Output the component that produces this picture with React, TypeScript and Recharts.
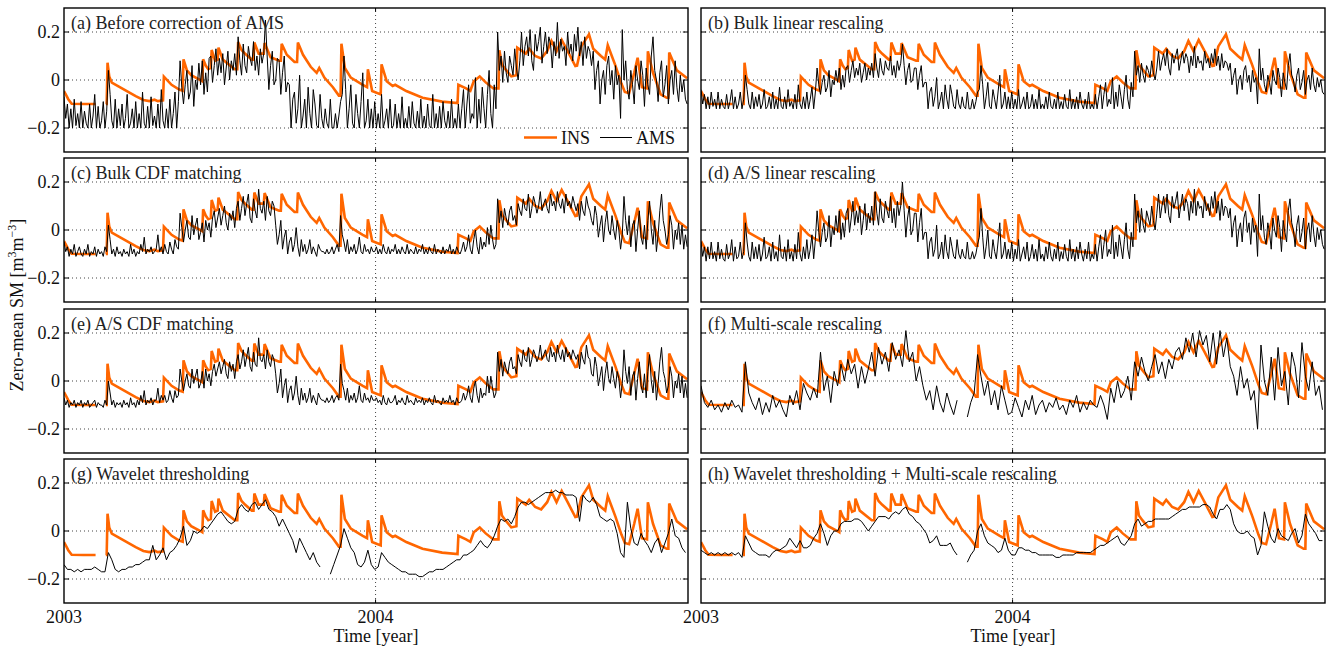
import React from 'react';
import { LineChart, Line, XAxis, YAxis, ReferenceLine } from 'recharts';

const FONT = '"Liberation Serif", "Times New Roman", serif';
const X_END = 731; // days from 2003-01-01 to 2005-01-01
const xTickDays = [0, 365];
const xTickLabels = ['2003', '2004'];
const yTicks = [-0.2, 0, 0.2];
const yTickLabels = ['\u22120.2', '0', '0.2'];

// INS (in situ) soil moisture anomaly, values in 0.01 m3/m3, at irregular days
const insDays = [0,5,9,23,37,43,49,50,51,53,56,70,84,93,100,106,110,116,117,126,135,139,140,144,149,161,162,163,166,169,172,173,177,180,181,186,200,203,204,208,212,220,222,223,228,234,235,242,252,254,255,261,270,273,274,280,289,296,299,305,315,322,324,325,329,336,350,355,356,361,371,372,378,385,388,401,420,443,461,462,471,476,480,487,494,503,509,510,513,517,524,530,531,541,545,552,559,566,571,577,583,590,599,601,606,615,620,629,634,637,646,653,657,662,668,672,677,683,684,690,699,706,708,709,718,730];
const insVals = [-4.6,-8,-9.9,-10,-10,null,-10,-10,7.2,1.5,-1.1,-3.9,-6.7,-8.3,-8.8,-8.2,-8.8,-8.5,1.4,-2,-4,-4.5,8.6,4,2,-0.3,-0.5,8.6,6,4.5,5,12.5,8,8.5,13.5,8.5,4.5,4.5,15.8,12.5,11,8.5,8.5,15.6,11,11,15.4,9.5,8,8,15.1,10.5,7.5,7.5,15.6,10.5,5.5,3,5,1,-3,-6.5,-6.5,15.1,5,1,-2,-3,4.5,-4.6,-6,6.5,-0.5,-2.5,-2,-4.6,-7.4,-9,-9.6,-2,-3.5,-4.5,-0.5,1.5,-1,-3.5,-3.5,12.4,6.5,4.5,1.5,2,13.5,11,13,10,9,12,16.3,12,16.7,12,5.8,6,14,19,13,10,8.5,14.5,6,-1.5,-5,-5.5,3,9.3,-3,-3.5,12,3,-6,-7.4,-7.4,11.4,4,0.7];

// AMS series for each panel, values in 0.01 m3/m3; (a)-(e) every 2 days, (f)-(h) every 4 days
const amsA = [-7,-16,-10,-20,-12,-20,-8,-19,-14,-20,-9,-20,-13,-18,-20,-10,-20,-15,-6,-20,-11,-20,-17,-9,-20,-13,4,-6,-17,-20,-8,-20,-12,-19,-10,-20,-16,-6,-20,-18,-12,-20,-9,-20,-14,-20,-5,-18,-20,-11,-20,-7,-19,-15,-20,-10,-20,-4,-17,-20,-12,-20,-8,-20,-14,-5,-20,-9,8,-3,-10,-2,4,-8,-5,6,-11,0,-4,7,-2,8,-6,3,-5,9,10,-1,6,13,2,9,3,11,-2,5,12,0,8,4,11,2,18,8,2,15,6,3,14,9,6,16,4,10,2,13,7,11,25,10,-4,6,12,-2,0,9,8,-6,3,10,-5,-1,-2,-20,-8,-5,-18,-12,2,-20,-15,-8,-20,-3,-14,-20,-4,-10,-19,-20,-6,-16,-20,-12,-18,-20,-8,-20,-20,-14,-20,-15,-9,-6,10,-4,-20,-12,-2,-18,-20,-6,-14,-20,-9,3,-20,-17,-8,-20,-12,-20,-9,-20,-14,-20,-6,-20,-17,-12,-20,-8,-20,-19,-10,-20,-14,-20,-7,-20,-16,-20,-11,-20,-9,-18,-20,-13,-20,-8,-20,-15,-20,-10,-19,-20,-6,-20,-14,-20,-11,-20,-9,-17,-20,-13,-20,-8,-20,-16,-20,-10,-20,-12,-4,-20,-10,-2,-18,-14,-16,1,-20,-8,-18,-3,-12,-20,-6,4,-14,-20,-2,-12,20,4,10,-1,12,3,-1,10,6,2,13,5,0,8,20,6,14,18,10,21,8,4,19,12,16,22,7,14,20,11,18,15,5,16,10,24,9,17,12,14,6,20,11,15,8,19,12,22,10,16,6,18,9,14,12,6,12,-4,4,8,-10,0,4,-6,6,10,-2,4,-8,6,-2,2,-16,21,0,8,-4,-8,4,-2,-10,6,0,-4,8,2,-11,5,-2,-6,10,18,4,0,-9,3,8,-7,-2,6,-10,0,4,-6,8,-3,-9,2,-5,0,-8,-10];
const amsB = [-4,-10,-6,-12,-7,-12,-5,-11,-8,-12,-5,-12,-8,-11,-12,-6,-12,-9,-4,-12,-7,-12,-10,-5,-12,-8,2,-4,-10,-12,-5,-12,-7,-11,-6,-12,-10,-4,-12,-11,-7,-12,-5,-12,-8,-12,-3,-11,-12,-7,-12,-4,-11,-9,-12,-6,-12,-2,-10,-12,-7,-12,-5,-12,-8,-3,-12,-5,5,-2,-6,-1,2,-5,-3,4,-7,0,-2,4,-1,5,-4,2,-3,5,6,-1,4,8,1,5,2,7,-1,3,7,0,5,2,7,1,11,5,1,9,4,2,8,5,4,10,2,6,1,8,4,7,15,6,-2,4,7,-1,0,5,5,-4,2,6,-3,-1,-1,-12,-5,-3,-11,-7,1,-12,-9,-5,-12,-2,-8,-12,-2,-6,-11,-12,-4,-10,-12,-7,-11,-12,-5,-12,-12,-8,-12,-9,-5,-4,6,-2,-12,-7,-1,-11,-12,-4,-8,-12,-5,2,-12,-10,-5,-12,-7,-12,-5,-12,-8,-12,-4,-12,-10,-7,-12,-5,-12,-11,-6,-12,-8,-12,-4,-12,-10,-12,-7,-12,-5,-11,-12,-8,-12,-5,-12,-9,-12,-6,-11,-12,-4,-12,-8,-12,-7,-12,-5,-10,-12,-8,-12,-5,-12,-10,-12,-6,-12,-7,-2,-12,-6,-1,-11,-8,-10,1,-12,-5,-11,-2,-7,-12,-4,2,-8,-12,-1,-7,12,2,6,-1,7,2,-1,6,4,1,8,3,0,5,12,4,8,11,6,13,5,2,11,7,10,13,4,8,12,7,11,9,3,10,6,14,5,10,7,8,4,12,7,9,5,11,7,13,6,10,4,11,5,8,7,4,7,-2,2,5,-6,0,2,-4,4,6,-1,2,-5,4,-1,1,-10,13,0,5,-2,-5,2,-1,-6,4,0,-2,5,1,-7,3,-1,-4,6,11,2,0,-5,2,5,-4,-1,4,-6,0,2,-4,5,-2,-5,1,-3,0,-5,-6];
const amsC = [-5,-9,-7,-11,-8,-10,-6,-11,-9,-7,-10,-11,-8,-10,-6,-11,-9,-10,-7,-11,-8,-10,-9,-11,-7,-9,2,-4,-10,-8,-11,-7,-10,-9,-11,-8,-10,-9,-11,-6,-10,-8,-11,-9,-10,-6,-9,-3,-10,-8,-9,-7,-10,-9,-8,-2,-9,-7,-10,-6,-9,-10,-5,-8,-10,-4,-7,-8,7,1,-5,0,4,-3,-4,6,-2,2,5,-4,-1,3,-5,4,0,3,-3,5,8,1,5,9,2,6,10,3,0,7,4,8,1,9,12,4,9,14,6,11,15,5,3,13,8,5,17,9,7,12,4,14,8,6,12,10,2,-6,-2,4,-8,-3,0,-10,-5,-3,-9,-6,1,-7,-11,-4,-9,-6,-10,-8,-4,-10,-7,-9,-11,-6,-8,-9,-9,-10,-8,-10,-9,-7,-10,-8,-6,-9,6,-2,-5,-9,-4,-10,-7,-9,-6,-10,-8,-3,-9,-10,-6,-9,-8,-10,-7,-9,-9,-7,-10,-8,-10,-6,-9,-10,-7,-10,-8,-9,-6,-10,-8,-10,-7,-9,-10,-6,-10,-8,-9,-10,-7,-10,-8,-9,-6,-10,-8,-10,-7,-9,-10,-6,-10,-8,-9,-10,-7,-10,-8,-9,-6,-10,-8,-10,-7,-9,-10,-8,-5,-9,-7,-2,-8,-10,-4,0,-7,-10,-3,-8,-5,-7,1,-6,2,-4,-8,-6,13,3,8,1,9,5,2,8,10,4,6,2,11,8,6,13,9,8,15,5,9,14,11,7,10,16,8,11,13,9,7,15,10,12,8,16,11,9,13,7,15,10,12,9,14,11,8,11,4,12,8,6,14,10,8,4,2,10,6,-3,2,6,-5,3,8,0,-2,6,0,-4,4,0,-8,-2,14,4,-2,6,-7,2,4,-9,0,8,-3,-6,2,-8,4,12,0,-6,4,-9,-2,8,15,4,0,-6,-2,6,2,-8,0,-4,3,-6,2,-8,-2,-7];
const amsD = [-5,-11,-7,-13,-7,-12,-5,-12,-9,-13,-5,-12,-8,-12,-13,-6,-12,-10,-4,-13,-7,-12,-11,-5,-12,-9,3,-5,-11,-13,-5,-12,-7,-12,-6,-13,-10,-3,-12,-11,-7,-13,-5,-12,-9,-13,-2,-11,-12,-7,-13,-4,-12,-9,-13,-6,-12,-1,-10,-13,-7,-12,-4,-12,-8,-2,-12,-4,8,-1,-7,-1,3,-5,-3,6,-7,1,-2,6,-1,8,-4,3,-3,7,9,-1,5,12,2,8,3,10,-2,4,11,0,7,3,10,2,16,7,2,13,5,3,12,8,5,14,3,9,1,12,6,10,20,8,-3,5,10,-2,0,7,7,-5,3,9,-4,-1,-1,-12,-5,-3,-11,-8,2,-12,-10,-5,-12,-2,-9,-12,-3,-7,-11,-12,-4,-10,-12,-8,-11,-12,-5,-12,-12,-9,-12,-10,-6,-3,9,-3,-12,-7,0,-11,-12,-4,-9,-12,-5,3,-12,-10,-5,-12,-8,-12,-5,-13,-8,-12,-4,-13,-10,-7,-12,-5,-13,-11,-6,-12,-8,-13,-4,-12,-10,-13,-7,-12,-5,-11,-13,-8,-12,-5,-13,-9,-12,-6,-11,-13,-4,-12,-8,-13,-7,-12,-5,-10,-13,-8,-12,-5,-13,-10,-12,-6,-13,-7,-2,-12,-6,0,-11,-8,-10,2,-12,-5,-11,-2,-7,-12,-4,3,-8,-12,-1,-7,15,3,8,-1,9,2,-1,8,5,2,10,4,0,7,15,5,10,14,7,15,6,3,14,9,12,16,5,10,15,8,13,11,4,12,7,17,6,12,9,10,5,14,8,11,6,14,9,16,7,12,4,13,6,10,9,5,9,-3,3,6,-7,0,3,-5,5,8,-1,3,-6,5,-1,2,-11,15,0,6,-3,-6,3,-1,-8,5,0,-3,6,1,-9,4,-1,-5,8,13,3,0,-7,2,6,-5,-1,5,-8,0,3,-5,6,-2,-7,1,-4,0,-6,-8];
const amsE = [-7,-10,-8,-11,-9,-10,-8,-11,-9,-10,-8,-11,-9,-10,-8,-11,-10,-9,-8,-11,-9,-10,-10,-11,-8,-10,0,-5,-10,-8,-11,-9,-10,-9,-11,-8,-10,-9,-11,-7,-10,-9,-11,-8,-10,-6,-9,-4,-10,-8,-9,-7,-10,-8,-8,-3,-9,-6,-8,-6,-9,-8,-4,-7,-9,-4,-7,-6,5,0,-4,0,3,-2,-3,5,-1,2,5,-3,-1,4,-3,5,0,3,-2,4,7,2,5,8,3,6,9,3,1,8,4,7,1,8,11,5,8,13,6,10,14,6,4,12,7,6,18,9,8,11,5,13,8,6,11,9,3,-5,-1,5,-7,-2,1,-9,-4,-2,-8,-5,2,-6,-10,-3,-8,-5,-9,-7,-3,-9,-6,-8,-10,-5,-7,-8,-8,-9,-7,-9,-8,-6,-9,-7,-6,-8,7,-1,-4,-8,-3,-9,-6,-8,-5,-9,-7,-2,-8,-9,-5,-8,-7,-9,-6,-8,-8,-7,-9,-8,-10,-6,-9,-10,-7,-9,-9,-8,-6,-10,-8,-9,-7,-9,-10,-6,-9,-8,-9,-10,-7,-9,-8,-9,-7,-10,-8,-9,-7,-9,-10,-6,-9,-8,-9,-10,-7,-9,-8,-9,-6,-9,-8,-10,-7,-9,-9,-8,-5,-8,-6,-2,-7,-9,-3,0,-6,-9,-3,-7,-5,-6,2,-5,2,-3,-7,-5,12,4,9,2,8,5,3,8,10,5,6,3,11,8,6,13,9,8,14,6,9,13,11,8,10,15,9,11,13,9,8,14,10,12,8,15,11,9,13,8,14,10,12,9,13,11,9,11,5,12,9,7,15,10,9,3,2,10,6,-2,2,6,-4,3,8,1,-1,6,1,-3,4,1,-7,-1,13,4,-1,6,-6,2,4,-8,1,8,-2,-5,3,-7,4,11,0,-5,4,-8,-1,8,14,4,1,-5,-2,6,2,-7,0,-3,3,-5,2,-7,-1,-7];
const amsF = [-2,-9,-11,-8,-12,-10,-13,-9,-12,-8,-11,-10,-13,8,-5,-9,-12,-7,-14,-9,-13,-6,-11,-8,-12,-15,-6,-10,-4,-12,-1,-5,-8,-3,-7,12,-4,2,-9,4,-2,7,0,9,3,7,-3,6,-1,5,12,2,14,7,12,4,16,9,13,6,21,8,12,0,6,-2,-8,-4,-12,-2,-9,-13,-5,-10,-14,-8,null,null,-15,-9,-5,11,2,-6,0,-10,-4,-12,-2,-8,-14,-13,-7,-11,-15,-8,-12,-6,-14,-10,-8,-13,-9,-11,-7,-12,-10,-14,-8,-11,-6,-13,-9,-12,-8,-10,-11,-6,-10,-16,-3,-9,0,-7,-4,2,-8,8,2,10,4,0,6,11,3,8,1,9,5,12,14,9,18,12,20,10,21,15,19,8,20,7,21,10,18,6,2,-6,6,-3,1,-8,-4,-20,15,0,-6,10,-8,14,-2,4,-10,12,6,-7,16,2,-4,8,-6,-2,-12];
const amsG = [-14,-16,-16,-17,-16,-17,-16,-16,-16,-15,-16,-17,-17,-9,-12,-16,-17,-16,-16,-15,-15,-14,-14,-13,-12,-12,-6,-12,-10,-7,-12,-9,-8,-6,-3,2,-6,-4,0,-1,0,2,1,3,5,7,8,6,4,3,4,9,11,9,8,11,12,9,11,13,9,8,6,2,5,2,-1,-4,-9,-3,-6,-9,-12,-9,-13,-15,null,null,-18,-14,-10,-6,1,-3,-7,-9,-14,-15,-13,-8,-14,-16,-15,-9,-11,-13,-14,-15,-16,-17,-17,-18,-18,-18,-19,-19,-18,-17,-17,-16,-16,-16,-15,-14,-13,-12,-12,-10,-10,-9,-8,-6,-4,-6,-7,-5,-2,2,5,4,5,3,6,10,12,12,11,12,13,14,15,16,16,16,17,16,16,15,15,15,14,4,15,13,12,14,11,6,5,4,5,4,-1,-9,-11,12,1,-5,-6,-1,-4,-6,-9,-5,-3,-9,-5,-1,5,-2,-3,-7,-9];
const amsH = [-8,-9,-10,-9,-10,-9,-10,-9,-10,-9,-10,-9,-11,-2,-5,-8,-9,-10,-10,-10,-11,-9,-8,-8,-7,-6,-3,-5,-7,-4,-7,-7,-6,-3,-1,3,-1,-6,-2,0,0,3,4,4,4,5,5,4,2,0,2,4,6,6,6,5,7,8,7,9,10,7,6,4,3,1,-1,-5,-4,-2,-6,-6,-6,-5,-8,-10,null,null,-13,-10,-8,0,3,-2,-5,-6,-7,-9,-8,-3,-8,-10,-10,-7,-7,-8,-8,-9,-9,-10,-10,-10,-10,-10,-11,-11,-10,-10,-10,-10,-9,-9,-9,-9,-9,-8,-7,-6,-6,-5,-4,-3,-2,-5,-6,-4,-2,3,5,2,3,4,4,5,5,5,5,5,6,7,8,9,9,10,10,10,10,11,11,10,7,5,9,9,11,9,3,0,-1,-1,0,-2,-3,-10,-6,8,2,-3,-5,1,-2,-3,-4,-1,1,-5,-2,7,3,1,-1,-4,-4];

const amsSeries = [amsA, amsB, amsC, amsD, amsE, amsF, amsG, amsH];
const amsStepDays = [2, 2, 2, 2, 2, 4, 4, 4];

const panelTitles = [
  '(a) Before correction of AMS',
  '(b) Bulk linear rescaling',
  '(c) Bulk CDF matching',
  '(d) A/S linear rescaling',
  '(e) A/S CDF matching',
  '(f) Multi-scale rescaling',
  '(g) Wavelet thresholding',
  '(h) Wavelet thresholding + Multi-scale rescaling',
];
const legendLabels = ['INS', 'AMS'];
const yAxisTitle = 'Zero-mean SM [m';
const xAxisTitle = 'Time [year]';

const INS_COLOR = '#ff6600';
const AMS_COLOR = '#000000';

const insData = insDays.map((d, i) => ({ day: d, v: insVals[i] === null ? null : (insVals[i] as number) / 100 }));
const toSeries = (vals: (number | null)[], step: number) =>
  vals.map((v, i) => ({ day: i * step, v: v === null ? null : v / 100 }));

const W = 624;
const H = 144;
const COL_LEFT = [64, 701];
const ROW_TOP = [8, 158, 309, 459];
const Y_AXIS_W = 60;
const X_AXIS_H = 40;

const tickStyle = { fontSize: 18, fill: '#111', fontFamily: FONT };

function Panel({ idx }: { idx: number }) {
  const col = idx % 2;
  const row = Math.floor(idx / 2);
  const showY = col === 0;
  const showX = row === 3;
  const xh = showX ? X_AXIS_H : 0;
  const ams = toSeries(amsSeries[idx], amsStepDays[idx]);
  return (
    <div style={{ position: 'absolute', left: COL_LEFT[col] - Y_AXIS_W, top: ROW_TOP[row] }}>
      <LineChart
        width={W + Y_AXIS_W}
        height={H + xh}
        margin={{ top: 0, right: 0, bottom: 0, left: showY ? 0 : Y_AXIS_W }}
      >
        <XAxis
          type="number"
          dataKey="day"
          domain={[0, X_END]}
          ticks={xTickDays}
          interval={0}
          allowDataOverflow
          hide={!showX}
          height={X_AXIS_H}
          axisLine={false}
          tickLine={false}
          tickSize={4}
          tickMargin={3}
          tick={tickStyle}
          tickFormatter={(v: number) => xTickLabels[xTickDays.indexOf(v)] ?? ''}
        />
        <YAxis
          type="number"
          domain={[-0.3, 0.3]}
          ticks={yTicks}
          interval={0}
          allowDataOverflow
          hide={!showY}
          width={Y_AXIS_W}
          axisLine={false}
          tickLine={false}
          tickSize={2}
          tickMargin={2}
          tick={tickStyle}
          tickFormatter={(v: number) => yTickLabels[yTicks.findIndex((t) => Math.abs(t - v) < 1e-9)] ?? ''}
        />
        {yTicks.map((t) => (
          <ReferenceLine key={'g' + t} y={t} stroke="#444" strokeDasharray="1 3" strokeWidth={1} />
        ))}
        <ReferenceLine x={365} stroke="#444" strokeDasharray="1 3" strokeWidth={1} />
        {yTicks.map((t) => (
          <ReferenceLine key={'tl' + t} segment={[{ x: 0, y: t }, { x: 6, y: t }]} stroke="#000" strokeWidth={1} />
        ))}
        {yTicks.map((t) => (
          <ReferenceLine key={'tr' + t} segment={[{ x: X_END - 6, y: t }, { x: X_END, y: t }]} stroke="#000" strokeWidth={1} />
        ))}
        <ReferenceLine segment={[{ x: 365, y: -0.3 }, { x: 365, y: -0.285 }]} stroke="#000" strokeWidth={1} />
        <ReferenceLine segment={[{ x: 365, y: 0.285 }, { x: 365, y: 0.3 }]} stroke="#000" strokeWidth={1} />
        <Line
          data={insData}
          dataKey="v"
          type="linear"
          stroke={INS_COLOR}
          strokeWidth={2.6}
          dot={false}
          activeDot={false}
          connectNulls={false}
          isAnimationActive={false}
        />
        <Line
          data={ams}
          dataKey="v"
          type="linear"
          stroke={AMS_COLOR}
          strokeWidth={1}
          dot={false}
          activeDot={false}
          connectNulls={false}
          isAnimationActive={false}
        />
      </LineChart>
    </div>
  );
}

export default function App() {
  return (
    <div style={{ position: 'absolute', left: 0, top: 0, width: 1328, height: 650, background: '#fff', overflow: 'hidden' }}>
      {panelTitles.map((_, i) => (
        <Panel key={i} idx={i} />
      ))}
      <svg
        width={1328}
        height={650}
        style={{ position: 'absolute', left: 0, top: 0, pointerEvents: 'none' }}
        fontFamily={FONT}
      >
        {panelTitles.map((t, i) => {
          const col = i % 2;
          const row = Math.floor(i / 2);
          const x = COL_LEFT[col];
          const y = ROW_TOP[row];
          return (
            <g key={t}>
              <rect x={x} y={y} width={W} height={H} fill="none" stroke="#000" strokeWidth={1.4} />
              <text x={x + 7} y={y + 21} fontSize={18} fill="#222">
                {t}
              </text>
            </g>
          );
        })}
        <line x1={524} y1={137.5} x2={557} y2={137.5} stroke={INS_COLOR} strokeWidth={2.6} />
        <text x={561} y={143.5} fontSize={18} fill="#111">
          {legendLabels[0]}
        </text>
        <line x1={600} y1={137.5} x2={632} y2={137.5} stroke={AMS_COLOR} strokeWidth={1} />
        <text x={636} y={143.5} fontSize={18} fill="#111">
          {legendLabels[1]}
        </text>
        {COL_LEFT.map((x) => (
          <text key={'xt' + x} x={x + W / 2} y={642} fontSize={18} fill="#111" textAnchor="middle">
            {xAxisTitle}
          </text>
        ))}
        <text transform="translate(23,305) rotate(-90)" fontSize={18} fill="#111" textAnchor="middle">
          {yAxisTitle}
          <tspan dy={-7} fontSize={12}>3</tspan>
          <tspan dy={7}>m</tspan>
          <tspan dy={-7} fontSize={12}>{'\u22123'}</tspan>
          <tspan dy={7}>]</tspan>
        </text>
      </svg>
    </div>
  );
}
